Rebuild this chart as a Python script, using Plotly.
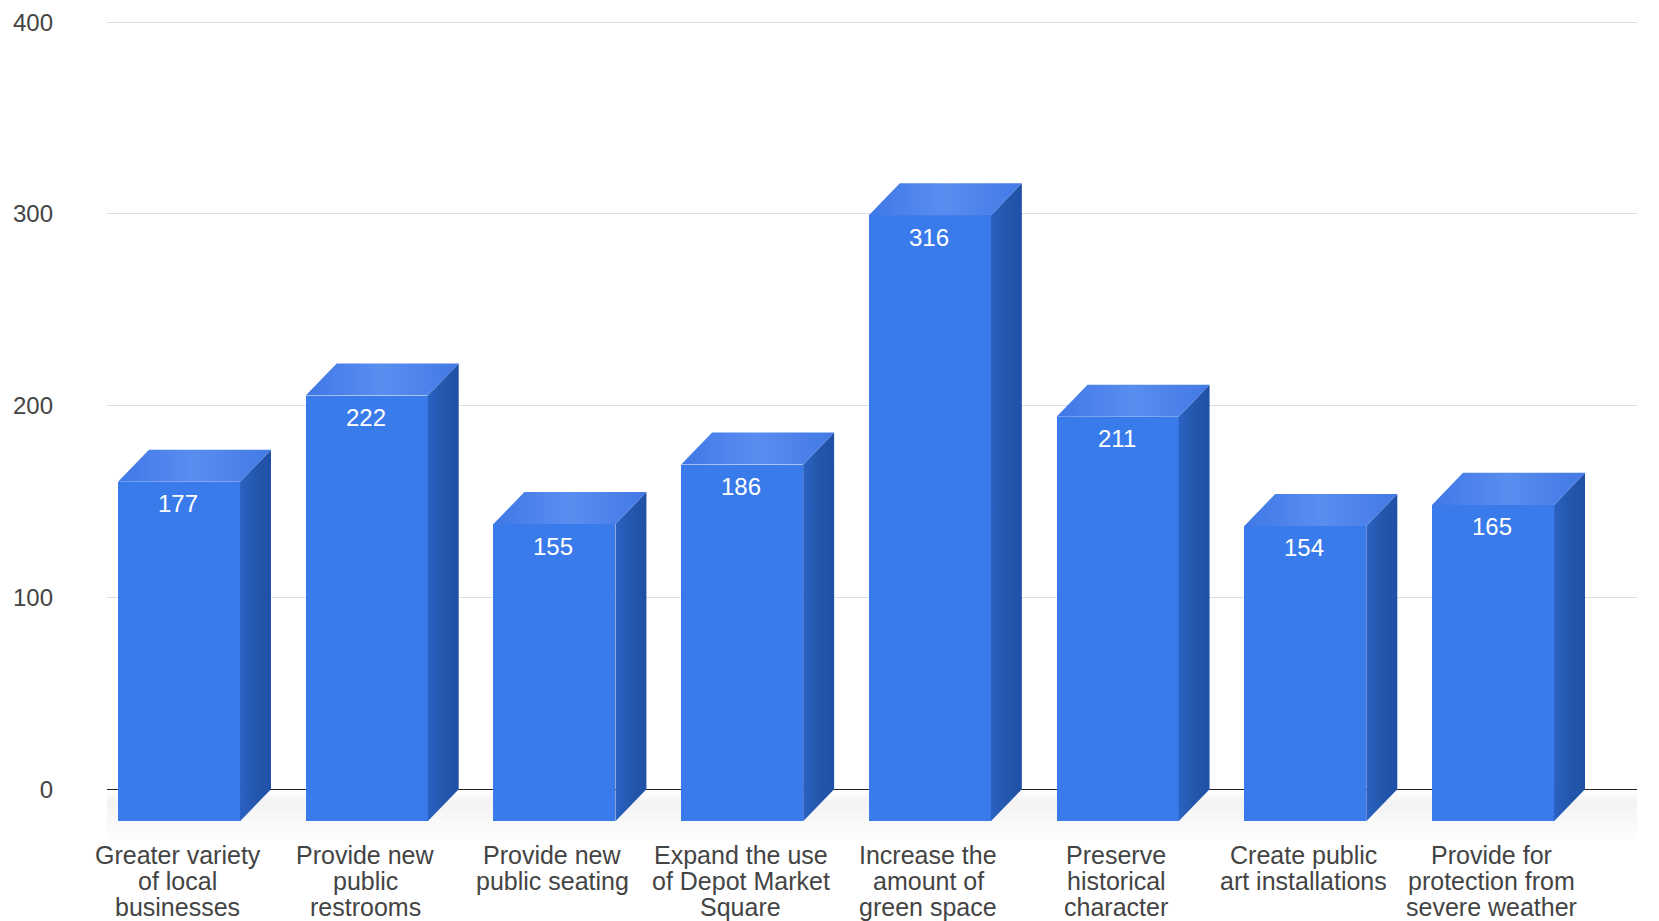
import plotly.graph_objects as go

categories = [
    ["Greater variety", "of local", "businesses"],
    ["Provide new", "public", "restrooms"],
    ["Provide new", "public seating"],
    ["Expand the use", "of Depot Market", "Square"],
    ["Increase the", "amount of", "green space"],
    ["Preserve", "historical", "character"],
    ["Create public", "art installations"],
    ["Provide for", "protection from", "severe weather"],
]
values = [177, 222, 155, 186, 316, 211, 154, 165]
y_ticks = [0, 100, 200, 300, 400]

FONT = "Liberation Sans"
BAR_W = 0.65
DX = 0.165      # depth of the 3D box in x units
DY = 16.7       # depth of the 3D box in y units
FRONT = "#3a7bec"
SIDE_SCALE = [[0, "#2a62c4"], [0.5, "#2457ac"], [1, "#1f50a6"]]
TOP_SCALE = [[0, "#3f78e6"], [0.5, "#5a8df0"], [1, "#4279e4"]]

xs = list(range(len(values)))
fig = go.Figure()

fig.add_bar(
    x=xs, y=values, base=[-DY] * len(values), width=BAR_W,
    marker=dict(color=FRONT, line=dict(width=0)),
    hoverinfo="skip", showlegend=False,
)

for x, v in zip(xs, values):
    l, r = x - BAR_W / 2, x + BAR_W / 2
    fig.add_scatter(
        x=[r, r + DX, r + DX, r, r], y=[v - DY, v, 0, -DY, v - DY],
        mode="lines", line=dict(width=0), fill="toself",
        fillgradient=dict(type="horizontal", colorscale=SIDE_SCALE),
        hoverinfo="skip", showlegend=False,
    )
    fig.add_scatter(
        x=[l, r, r + DX, l + DX, l], y=[v - DY, v - DY, v, v, v - DY],
        mode="lines", line=dict(width=0), fill="toself",
        fillgradient=dict(type="horizontal", colorscale=TOP_SCALE),
        hoverinfo="skip", showlegend=False,
    )
    fig.add_annotation(
        x=x, y=v - DY, xref="x", yref="y", text=str(v), showarrow=False,
        yanchor="middle", yshift=-22, xshift=-1,
        font=dict(family=FONT, size=24, color="#ffffff"),
    )

for x, lines in zip(xs, categories):
    for n, line in enumerate(lines):
        fig.add_annotation(
            x=x, y=0, xref="x", yref="paper", text=line, showarrow=False,
            yanchor="middle", yshift=11 - 25.8 * n, xshift=-1.5,
            font=dict(family=FONT, size=25, color="#444444"),
        )

# soft floor shadow under the boxes
for k in range(6):
    fig.add_shape(
        type="rect", layer="below", xref="paper", yref="y",
        x0=0, x1=1, y0=-1 - k * 1.0, y1=-26 + k * 3.4,
        fillcolor="rgba(120,120,110,0.014)", line=dict(width=0),
    )

fig.update_layout(
    width=1659, height=921, autosize=False,
    margin=dict(l=107, r=22, t=3, b=55),
    paper_bgcolor="#ffffff", plot_bgcolor="#ffffff",
    showlegend=False, bargap=0,
    xaxis=dict(range=[-0.3836, 7.767], showgrid=False, zeroline=False,
               showticklabels=False, ticks="", showline=False, fixedrange=True),
    yaxis=dict(range=[-40, 410], tickvals=y_ticks, ticks="", showline=False,
               gridcolor="#d9dde5", gridwidth=1,
               zeroline=True, zerolinecolor="#222222", zerolinewidth=1,
               ticklabelstandoff=53, fixedrange=True,
               tickfont=dict(family=FONT, size=24, color="#444444")),
)

fig.write_html(
    "out.html",
    config=dict(displayModeBar=False),
    post_script="document.body.style.margin='0';document.body.style.overflow='hidden';",
)
